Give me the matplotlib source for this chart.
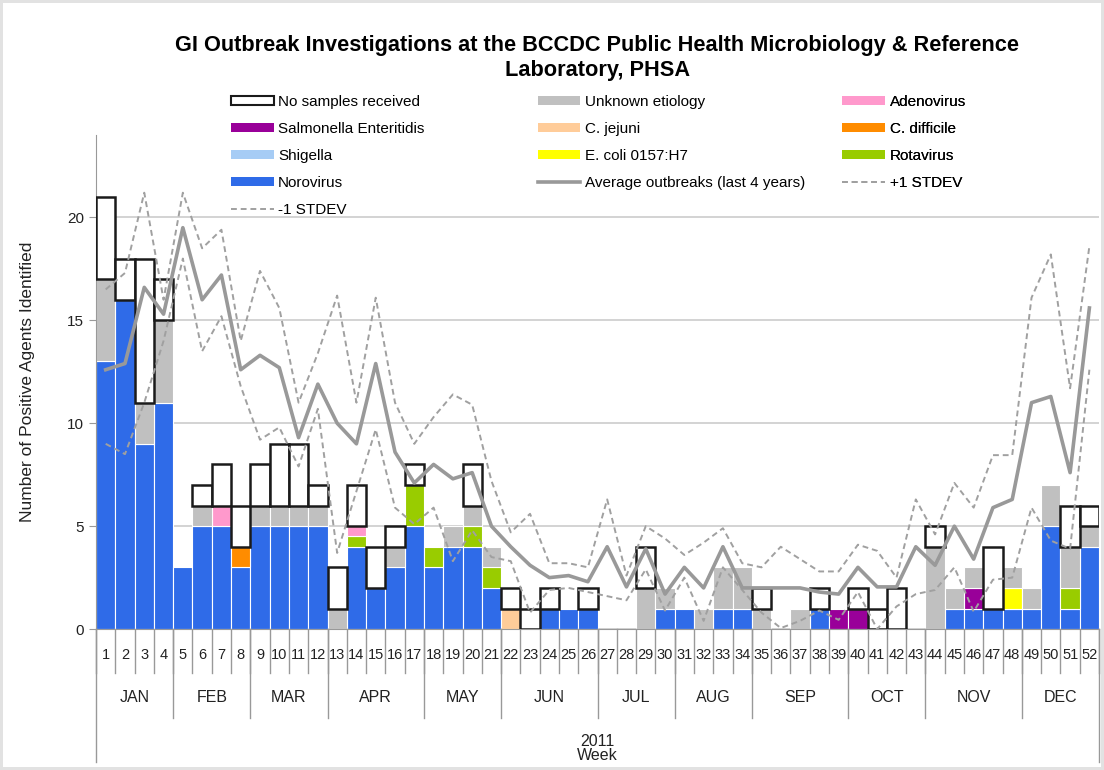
import numpy as np
import matplotlib.pyplot as plt
from matplotlib.patches import Patch
from matplotlib.lines import Line2D

plt.rcParams['font.family'] = ['Liberation Sans', 'DejaVu Sans']

weeks = list(range(1, 53))
months = ['JAN', 'FEB', 'MAR', 'APR', 'MAY', 'JUN',
          'JUL', 'AUG', 'SEP', 'OCT', 'NOV', 'DEC']
weeks_per_month = [4, 4, 4, 5, 4, 5, 4, 4, 5, 4, 5, 4]

# counts per week (1..52)
norovirus = [13, 16, 9, 11, 3, 5, 5, 3, 5, 5, 5, 5, 0, 4, 2, 3, 5, 3, 4, 4, 2, 0, 0, 1, 1, 1,
             0, 0, 0, 1, 1, 0, 1, 1, 0, 0, 0, 1, 0, 0, 0, 0, 0, 0, 1, 1, 1, 1, 1, 5, 1, 4]
shigella = [0] * 52
ecoli = [0] * 47 + [1, 0, 0, 0, 0]
rotavirus = [0, 0, 0, 0, 0, 0, 0, 0, 0, 0, 0, 0, 0, 0.5, 0, 0, 2, 1, 0, 1, 1, 0, 0, 0, 0, 0,
             0, 0, 0, 0, 0, 0, 0, 0, 0, 0, 0, 0, 0, 0, 0, 0, 0, 0, 0, 0, 0, 0, 0, 0, 1, 0]
salmonella = [0] * 38 + [1, 1, 0, 0, 0, 0, 0, 1, 0, 0, 0, 0, 0, 0]
jejuni = [0] * 21 + [1] + [0] * 30
cdifficile = [0] * 7 + [1] + [0] * 44
adenovirus = [0, 0, 0, 0, 0, 0, 1, 0, 0, 0, 0, 0, 0, 0.5] + [0] * 38
unknown = [4, 0, 2, 4, 0, 1, 0, 0, 1, 1, 1, 1, 1, 0, 0, 1, 0, 0, 1, 1, 1, 0, 0, 0, 0, 0,
           0, 0, 2, 1, 0, 1, 2, 2, 1, 0, 1, 0, 0, 0, 0, 0, 0, 4, 1, 1, 0, 1, 1, 2, 2, 1]
no_samples = [4, 2, 7, 2, 0, 1, 2, 2, 2, 3, 3, 1, 2, 2, 2, 1, 1, 0, 0, 2, 0, 1, 1, 1, 0, 1,
              0, 0, 2, 0, 0, 0, 0, 0, 1, 0, 0, 1, 0, 1, 1, 2, 0, 1, 0, 0, 3, 0, 0, 0, 2, 1]

avg_outbreaks = [12.6, 12.9, 16.6, 15.3, 19.5, 16.0, 17.2, 12.6, 13.3, 12.7, 9.3, 11.9, 10.0,
                 9.0, 12.9, 8.6, 7.1, 8.0, 7.3, 7.6, 5.0, 4.0, 3.1, 2.5, 2.6, 2.3,
                 4.0, 2.05, 3.9, 1.7, 3.0, 2.0, 4.0, 2.0, 2.0, 2.0, 2.0, 1.8, 1.7,
                 3.0, 2.05, 2.05, 4.0, 3.1, 5.0, 3.4, 5.9, 6.3, 11.0, 11.3, 7.6, 15.6]
plus_stdev = [16.5, 17.3, 21.2, 16.0, 21.2, 18.5, 19.4, 14.0, 17.4, 15.6, 11.0, 13.4, 16.2,
              11.0, 16.1, 11.0, 9.0, 10.3, 11.4, 10.9, 7.2, 4.7, 5.6, 3.2, 3.2, 3.0,
              6.3, 2.6, 5.0, 4.4, 3.6, 4.2, 4.9, 3.2, 3.0, 4.0, 3.4, 2.8, 2.8,
              4.1, 3.8, 2.5, 6.3, 4.6, 7.1, 5.9, 8.45, 8.45, 16.1, 18.2, 11.7, 18.6]
minus_stdev = [9.0, 8.5, 11.0, 14.0, 18.0, 13.5, 15.2, 11.8, 9.2, 9.8, 7.9, 10.7, 3.7,
               6.7, 9.7, 5.9, 5.1, 5.9, 3.3, 4.8, 3.5, 3.3, 0.8, 1.9, 2.0, 1.8,
               1.6, 1.4, 2.9, 0.9, 2.5, 0.4, 3.0, 1.9, 0.8, 0.05, 0.4, 0.9, 0.45,
               1.8, 0.0, 1.1, 1.7, 1.9, 3.0, 0.85, 2.4, 2.5, 5.9, 4.3, 3.9, 12.6]

stack = [
    (norovirus, '#2F6BE8', 'Norovirus'),
    (shigella, '#A6CCF5', 'Shigella'),
    (ecoli, '#FFFF00', 'E. coli 0157:H7'),
    (rotavirus, '#99CC00', 'Rotavirus'),
    (salmonella, '#990099', 'Salmonella Enteritidis'),
    (jejuni, '#FFCC99', 'C. jejuni'),
    (cdifficile, '#FF8C00', 'C. difficile'),
    (adenovirus, '#FF99CC', 'Adenovirus'),
    (unknown, '#C0C0C0', 'Unknown etiology'),
]
colors = {label: c for _, c, label in stack}

fig = plt.figure(figsize=(11.04, 7.7), dpi=100)
fig.patch.set_edgecolor('#E2E2E2')
fig.patch.set_linewidth(3)
ax = fig.add_axes([0.087, 0.183, 0.9085, 0.6416])

x = np.array(weeks)
bottom = np.zeros(52)
for vals, color, label in stack:
    v = np.array(vals, dtype=float)
    m = v > 0
    if m.any():
        ax.bar(x[m], v[m], bottom=bottom[m], width=1.0, color=color,
               edgecolor='white', linewidth=0.8, zorder=2)
    bottom += v

ns = np.array(no_samples, dtype=float)
m = ns > 0
ax.bar(x[m], ns[m], bottom=bottom[m], width=1.0, facecolor='white',
       edgecolor='#1a1a1a', linewidth=1.8, zorder=3)

ax.plot(weeks, plus_stdev, color='#A0A0A0', lw=1.4, ls=(0, (3, 2)), zorder=4)
ax.plot(weeks, minus_stdev, color='#A0A0A0', lw=1.4, ls=(0, (3, 2)), zorder=4)
ax.plot(weeks, avg_outbreaks, color='#999999', lw=2.6, zorder=5)

ax.set_xlim(0.5, 52.5)
ax.set_ylim(0, 24)
ax.set_yticks([0, 5, 10, 15, 20])
ax.yaxis.grid(True, color='#CCCCCC', lw=1.2)
ax.set_axisbelow(True)
ax.set_xticks([])
for s in ['top', 'right']:
    ax.spines[s].set_visible(False)
ax.spines['left'].set_color('#999999')
ax.spines['bottom'].set_color('#999999')
ax.tick_params(axis='y', colors='#999999', labelcolor='#222222', labelsize=11, length=5)
ax.set_ylabel('Number of Positive Agents Identified', fontsize=12.5, color='#222222')
ax.yaxis.set_label_coords(-0.061, 0.5)

# category table under the axis: weeks, months, year
trans = ax.get_xaxis_transform()
for w in weeks:
    ax.text(w, -0.053, str(w), transform=trans, ha='center', va='center', fontsize=10.5,
            color='#222222')
for k in range(53):
    ax.plot([k + 0.5, k + 0.5], [0, -0.089], transform=trans, clip_on=False,
            color='#999999', lw=1)
edges = np.concatenate([[0], np.cumsum(weeks_per_month)]) + 0.5
for i, name in enumerate(months):
    ax.text((edges[i] + edges[i + 1]) / 2, -0.138, name, transform=trans, ha='center',
            va='center', fontsize=11.5, color='#222222')
for e in edges:
    low = -0.27 if e in (edges[0], edges[-1]) else -0.18
    ax.plot([e, e], [0, low], transform=trans, clip_on=False, color='#999999', lw=1)
ax.text(26.5, -0.242, '2011\nWeek', transform=trans, ha='center', va='center',
        fontsize=11.5, linespacing=0.9, color='#222222')

fig.text(0.541, 0.925, 'GI Outbreak Investigations at the BCCDC Public Health Microbiology & Reference\nLaboratory, PHSA',
         ha='center', va='center', fontsize=15.7, weight='bold', linespacing=1.25)

# legend in three columns
def patch(label):
    return Patch(facecolor=colors[label], edgecolor='none', label=label)

dash = dict(color='#A0A0A0', lw=1.4, ls=(0, (3, 2)))
col1 = [Patch(facecolor='white', edgecolor='#1a1a1a', lw=1.5, label='No samples received'),
        patch('Salmonella Enteritidis'), patch('Shigella'), patch('Norovirus'),
        Line2D([], [], label='-1 STDEV', **dash)]
col2 = [patch('Unknown etiology'), patch('C. jejuni'), patch('E. coli 0157:H7'),
        Line2D([], [], color='#999999', lw=2.6, label='Average outbreaks (last 4 years)')]
col3 = [patch('Adenovirus'), patch('C. difficile'), patch('Rotavirus'),
        Line2D([], [], label='+1 STDEV', **dash)]

leg_kw = dict(loc='upper left', frameon=False, fontsize=11, borderpad=0, borderaxespad=0,
              handlelength=2.8, handleheight=0.55, handletextpad=0.3, labelspacing=0.86,
              bbox_transform=fig.transFigure)
for handles, xpos in [(col1, 0.209), (col2, 0.487), (col3, 0.763)]:
    leg = ax.legend(handles=handles, bbox_to_anchor=(xpos, 0.877), **leg_kw)
    ax.add_artist(leg)

fig.savefig('out.png', dpi=100)
